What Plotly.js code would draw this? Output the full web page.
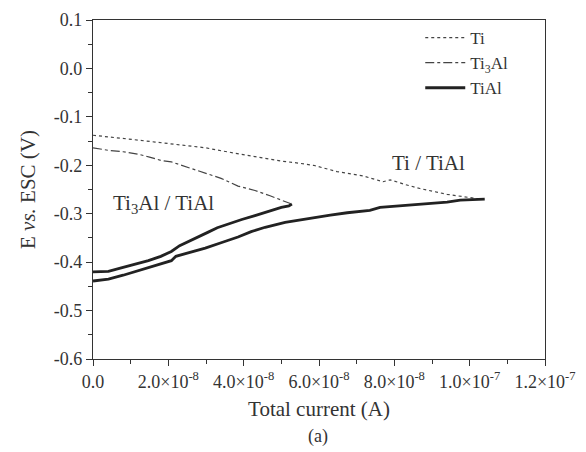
<!DOCTYPE html>
<html>
<head>
<meta charset="utf-8">
<script src="https://cdn.plot.ly/plotly-3.0.1.min.js"></script>
<style>html,body{margin:0;padding:0;background:#fff;}#chart{width:586px;height:452px;}</style>
</head>
<body>
<div id="chart"></div>
<script>
// Ti (dotted)
const tiX = [0, 0.4e-8, 0.75e-8, 1.2e-8, 1.65e-8, 2.1e-8, 2.53e-8, 3.0e-8, 3.4e-8, 3.85e-8, 4.3e-8, 4.97e-8, 5.4e-8, 5.85e-8, 6.48e-8, 7.17e-8, 7.7e-8, 7.89e-8, 8.3e-8, 8.68e-8, 9.4e-8, 9.93e-8, 1.03e-7];
const tiE = [-0.138, -0.141, -0.145, -0.148, -0.152, -0.156, -0.159, -0.164, -0.170, -0.176, -0.183, -0.191, -0.195, -0.200, -0.213, -0.222, -0.234, -0.230, -0.240, -0.248, -0.260, -0.266, -0.270];
// Ti3Al (dash-dot)
const ti3alX = [0, 0.4e-8, 0.8e-8, 1.2e-8, 1.5e-8, 1.81e-8, 2.08e-8, 2.4e-8, 2.72e-8, 3.05e-8, 3.4e-8, 3.85e-8, 4.3e-8, 4.7e-8, 5.1e-8, 5.24e-8];
const ti3alE = [-0.164, -0.169, -0.172, -0.177, -0.183, -0.190, -0.193, -0.201, -0.210, -0.218, -0.227, -0.243, -0.252, -0.263, -0.276, -0.279];
// TiAl upper branch (vs Ti3Al)
const tialUpX = [0, 0.41e-8, 0.75e-8, 1.1e-8, 1.47e-8, 1.8e-8, 2.08e-8, 2.3e-8, 2.53e-8, 2.8e-8, 3.06e-8, 3.3e-8, 3.59e-8, 3.95e-8, 4.3e-8, 4.65e-8, 5.0e-8, 5.2e-8, 5.28e-8];
const tialUpE = [-0.420, -0.419, -0.412, -0.405, -0.397, -0.388, -0.378, -0.366, -0.357, -0.347, -0.338, -0.329, -0.321, -0.312, -0.304, -0.295, -0.287, -0.284, -0.280];
// TiAl lower branch (vs Ti)
const tialLoX = [0, 0.41e-8, 0.8e-8, 1.2e-8, 1.65e-8, 2.08e-8, 2.2e-8, 2.6e-8, 2.98e-8, 3.4e-8, 3.85e-8, 4.2e-8, 4.57e-8, 5.1e-8, 5.85e-8, 6.3e-8, 6.75e-8, 7.35e-8, 7.62e-8, 8.34e-8, 8.95e-8, 9.4e-8, 9.75e-8, 1.04e-7];
const tialLoE = [-0.439, -0.435, -0.427, -0.418, -0.408, -0.397, -0.388, -0.380, -0.371, -0.360, -0.348, -0.337, -0.328, -0.318, -0.308, -0.303, -0.298, -0.293, -0.287, -0.282, -0.278, -0.276, -0.272, -0.270];

const xTickVals = [0, 2e-8, 4e-8, 6e-8, 8e-8, 1e-7, 1.2e-7];
const xTickText = ['0.0', '2.0×10<sup>-8</sup>', '4.0×10<sup>-8</sup>', '6.0×10<sup>-8</sup>', '8.0×10<sup>-8</sup>', '1.0×10<sup>-7</sup>', '1.2×10<sup>-7</sup>'];
const xMinorVals = [1e-8, 3e-8, 5e-8, 7e-8, 9e-8, 1.1e-7];
const yTickVals = [0.1, 0.0, -0.1, -0.2, -0.3, -0.4, -0.5, -0.6];
const yTickText = ['0.1', '0.0', '-0.1', '-0.2', '-0.3', '-0.4', '-0.5', '-0.6'];
const yMinorVals = [0.05, -0.05, -0.15, -0.25, -0.35, -0.45, -0.55];

const ink = '#222';
const fam = '"Liberation Serif", "DejaVu Serif", serif';
const txt = '#333';

const traces = [
  {x: tiX, y: tiE, name: 'Ti', mode: 'lines', line: {color: '#444', width: 1.2, dash: 'dot'}},
  {x: ti3alX, y: ti3alE, name: 'Ti<sub>3</sub>Al', mode: 'lines', line: {color: '#444', width: 1.2, dash: 'dashdot'}},
  {x: tialLoX, y: tialLoE, name: 'TiAl', mode: 'lines', line: {color: ink, width: 2.8}, legendgroup: 'tial'},
  {x: tialUpX, y: tialUpE, name: 'TiAl', mode: 'lines', line: {color: ink, width: 2.8}, legendgroup: 'tial', showlegend: false}
];

const layout = {
  width: 586, height: 452,
  margin: {l: 93, r: 41, t: 20, b: 93},
  paper_bgcolor: '#fff', plot_bgcolor: '#fff',
  font: {family: fam, color: txt, size: 18},
  showlegend: true,
  legend: {x: 0.724, y: 1.0, xanchor: 'left', yanchor: 'top', bgcolor: 'rgba(0,0,0,0)',
           font: {family: fam, size: 17, color: txt}, tracegroupgap: 0, itemwidth: 40},
  xaxis: {
    range: [0, 1.2e-7], showgrid: false, zeroline: false,
    showline: true, linecolor: '#333', linewidth: 1.2, mirror: true,
    ticks: 'outside', ticklen: 6, tickcolor: '#333',
    tickmode: 'array', tickvals: xTickVals, ticktext: xTickText,
    minor: {tickmode: 'array', tickvals: xMinorVals, ticks: 'outside', ticklen: 4, tickcolor: '#333'},
    tickfont: {family: fam, size: 18, color: txt},
    title: {text: 'Total current (A)', font: {family: fam, size: 21, color: txt}, standoff: 10}
  },
  yaxis: {
    range: [-0.6, 0.1], showgrid: false, zeroline: false,
    showline: true, linecolor: '#333', linewidth: 1.2, mirror: true,
    ticks: 'outside', ticklen: 6, tickcolor: '#333',
    tickmode: 'array', tickvals: yTickVals, ticktext: yTickText,
    minor: {tickmode: 'array', tickvals: yMinorVals, ticks: 'outside', ticklen: 4, tickcolor: '#333'},
    tickfont: {family: fam, size: 18, color: txt},
    title: {text: 'E <i>vs.</i> ESC (V)', font: {family: fam, size: 21, color: txt}, standoff: 12}
  },
  annotations: [
    {x: 8.9e-8, y: -0.196, xref: 'x', yref: 'y', text: 'Ti / TiAl', showarrow: false, font: {family: fam, size: 21, color: txt}},
    {x: 1.86e-8, y: -0.280, xref: 'x', yref: 'y', text: 'Ti<sub>3</sub>Al / TiAl', showarrow: false, font: {family: fam, size: 21, color: txt}},
    {x: (318 - 93) / 452, y: -(437 - 359) / 339.5, xref: 'paper', yref: 'paper', text: '(a)', showarrow: false, yanchor: 'middle', font: {family: fam, size: 18, color: txt}}
  ]
};

Plotly.newPlot('chart', traces, layout, {displayModeBar: false, staticPlot: true});
</script>
</body>
</html>
